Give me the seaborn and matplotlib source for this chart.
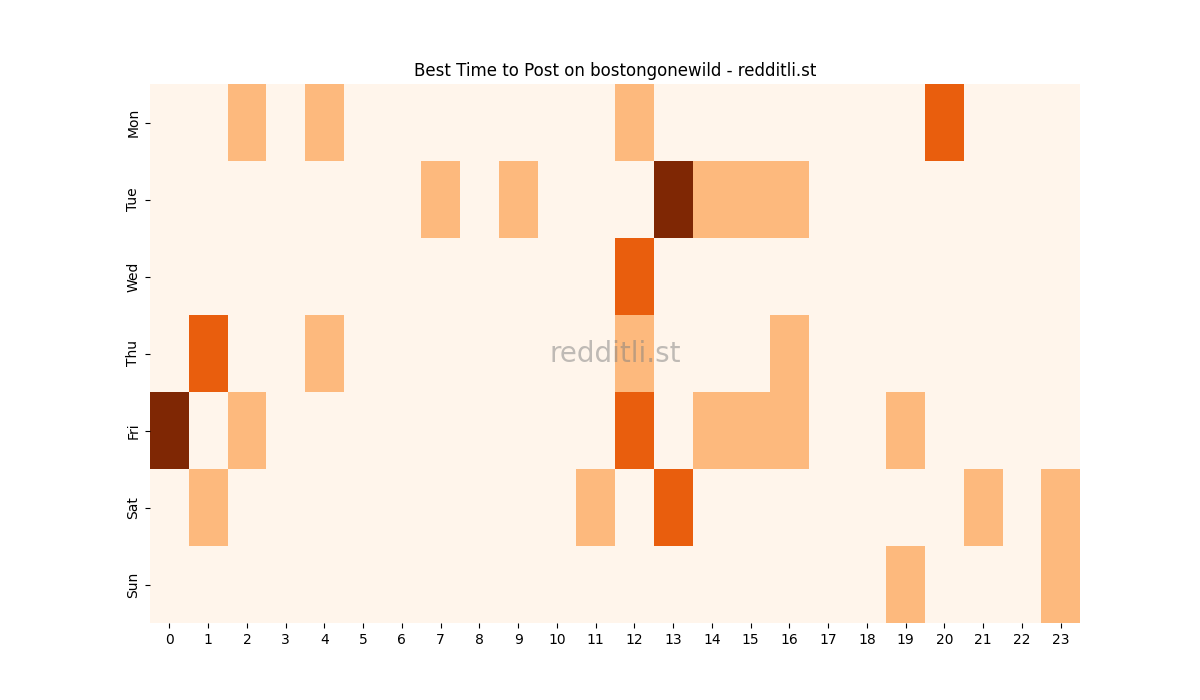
import numpy as np
import pandas as pd
import seaborn as sns
import matplotlib
matplotlib.use("Agg")
import matplotlib.pyplot as plt

days = ["Mon", "Tue", "Wed", "Thu", "Fri", "Sat", "Sun"]
hours = list(range(24))

# post counts per hour, one list per weekday
mon = [0, 0, 1, 0, 1, 0, 0, 0, 0, 0, 0, 0, 1, 0, 0, 0, 0, 0, 0, 0, 2, 0, 0, 0]
tue = [0, 0, 0, 0, 0, 0, 0, 1, 0, 1, 0, 0, 0, 3, 1, 1, 1, 0, 0, 0, 0, 0, 0, 0]
wed = [0, 0, 0, 0, 0, 0, 0, 0, 0, 0, 0, 0, 2, 0, 0, 0, 0, 0, 0, 0, 0, 0, 0, 0]
thu = [0, 2, 0, 0, 1, 0, 0, 0, 0, 0, 0, 0, 1, 0, 0, 0, 1, 0, 0, 0, 0, 0, 0, 0]
fri = [3, 0, 1, 0, 0, 0, 0, 0, 0, 0, 0, 0, 2, 0, 1, 1, 1, 0, 0, 1, 0, 0, 0, 0]
sat = [0, 1, 0, 0, 0, 0, 0, 0, 0, 0, 0, 1, 0, 2, 0, 0, 0, 0, 0, 0, 0, 1, 0, 1]
sun = [0, 0, 0, 0, 0, 0, 0, 0, 0, 0, 0, 0, 0, 0, 0, 0, 0, 0, 0, 1, 0, 0, 0, 1]

df = pd.DataFrame([mon, tue, wed, thu, fri, sat, sun], index=days, columns=hours)

fig, ax = plt.subplots(figsize=(12, 7), dpi=100)
sns.heatmap(df, cmap="Oranges", cbar=False, ax=ax)
ax.set_title("Best Time to Post on bostongonewild - redditli.st")
ax.set_xlabel("")
ax.set_ylabel("")
plt.setp(ax.get_yticklabels(), rotation=90, va="center")
plt.setp(ax.get_xticklabels(), rotation=0)

# watermark
ax.text(0.5, 0.5, "redditli.st", transform=ax.transAxes, ha="center", va="center",
        fontsize=20, color="gray", alpha=0.5)

plt.savefig("out.png")
plt.close()
